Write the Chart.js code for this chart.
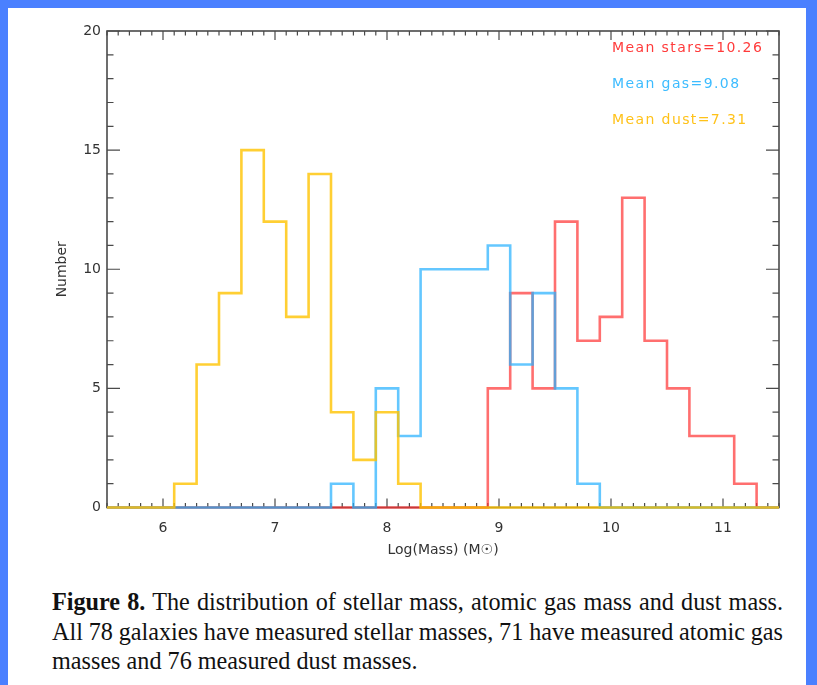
<!DOCTYPE html>
<html>
<head>
<meta charset="utf-8">
<title>Mass distributions</title>
<script src="https://cdn.jsdelivr.net/npm/chart.js@4.4.1/dist/chart.umd.min.js"></script>
<style>
  html, body { margin: 0; padding: 0; }
  body { width: 817px; height: 685px; background: #4a80ff; position: relative; overflow: hidden; }
  #panel { position: absolute; left: 8px; top: 8px; width: 798px; height: 677px; background: #fff; }
  #plot { position: absolute; left: 0; top: 0; }
  #caption {
    position: absolute; left: 52px; top: 587px; width: 731px;
    font-family: "Liberation Serif", "Times New Roman", serif;
    font-size: 24.2px; line-height: 29.5px; color: #111;
  }
  #caption div { white-space: nowrap; }
  #caption .full { text-align: justify; text-align-last: justify; }
  #caption .tight { word-spacing: -0.4px; }
</style>
</head>
<body>
<div id="panel"></div>
<canvas id="plot" width="817" height="570"></canvas>
<div id="caption">
  <div class="full"><b>Figure 8.</b> The distribution of stellar mass, atomic gas mass and dust mass.</div>
  <div class="full tight">All 78 galaxies have measured stellar masses, 71 have measured atomic gas</div>
  <div>masses and 76 measured dust masses.</div>
</div>
<script>
// histogram bins (log mass), width 0.2
const binEdges = [5.5, 5.7, 5.9, 6.1, 6.3, 6.5, 6.7, 6.9, 7.1, 7.3, 7.5, 7.7, 7.9, 8.1, 8.3, 8.5,
                  8.7, 8.9, 9.1, 9.3, 9.5, 9.7, 9.9, 10.1, 10.3, 10.5, 10.7, 10.9, 11.1, 11.3, 11.5];
const starsCounts = [0, 0, 0, 0, 0, 0, 0, 0, 0, 0, 0, 0, 0, 0, 0, 0, 0,
                     5, 9, 5, 12, 7, 8, 13, 7, 5, 3, 3, 1, 0];
const gasCounts   = [0, 0, 0, 0, 0, 0, 0, 0, 0, 0, 1, 0, 5, 3, 10, 10, 10,
                     11, 6, 9, 5, 1, 0, 0, 0, 0, 0, 0, 0, 0];
const dustCounts  = [0, 0, 0, 1, 6, 9, 15, 12, 8, 14, 4, 2, 4, 1, 0, 0, 0,
                     0, 0, 0, 0, 0, 0, 0, 0, 0, 0, 0, 0, 0];

const xTicks = [6, 7, 8, 9, 10, 11];
const yTicks = [0, 5, 10, 15, 20];
const meanLabels = ['Mean stars=10.26', 'Mean gas=9.08', 'Mean dust=7.31'];
const meanColors = ['#ff3b3b', '#3dbcff', '#ffc21a'];

// step outline: each edge carries the count of the bin that starts there
function steps(counts) {
  return binEdges.map((x, i) => ({ x: x, y: counts[Math.min(i, counts.length - 1)] }));
}

const frame = {
  id: 'frame',
  beforeDatasetsDraw(chart) {
    const { ctx, chartArea: a, scales: { x, y } } = chart;
    ctx.save();
    ctx.strokeStyle = '#4a4a4a';
    ctx.lineWidth = 1.6;
    ctx.strokeRect(a.left, a.top, a.right - a.left, a.bottom - a.top);
    ctx.lineWidth = 1.2;
    ctx.beginPath();
    // minor ticks every 0.1 on x, every 1 on y, all pointing inward
    for (let k = 0; k <= 60; k++) {
      const v = x.min + k * 0.1;
      const px = x.getPixelForValue(v);
      const len = Math.abs(v - Math.round(v)) < 1e-6 ? 9 : 4.5;
      ctx.moveTo(px, a.bottom); ctx.lineTo(px, a.bottom - len);
      ctx.moveTo(px, a.top); ctx.lineTo(px, a.top + len);
    }
    for (let v = y.min; v <= y.max; v++) {
      const py = y.getPixelForValue(v);
      const len = v % 5 === 0 ? 13 : 6.5;
      ctx.moveTo(a.left, py); ctx.lineTo(a.left + len, py);
      ctx.moveTo(a.right, py); ctx.lineTo(a.right - len, py);
    }
    ctx.stroke();
    ctx.restore();
  },
  afterDraw(chart) {
    const { ctx, chartArea: a } = chart;
    ctx.save();
    ctx.font = '14px "DejaVu Sans"';
    ctx.letterSpacing = '1.4px';
    ctx.textBaseline = 'middle';
    meanLabels.forEach((t, i) => {
      ctx.fillStyle = meanColors[i];
      ctx.fillText(t, a.left + 505, a.top + 17 + i * 36);
    });
    ctx.restore();
  }
};

const tickFont = { family: 'DejaVu Sans', size: 14 };

new Chart(document.getElementById('plot'), {
  type: 'line',
  data: {
    datasets: [
      { label: 'dust', data: steps(dustCounts), borderColor: 'rgba(255,195,0,0.8)', order: 1 },
      { label: 'gas', data: steps(gasCounts), borderColor: 'rgba(40,178,255,0.72)', order: 2 },
      { label: 'stars', data: steps(starsCounts), borderColor: 'rgba(255,50,50,0.7)', order: 3 }
    ]
  },
  options: {
    responsive: false,
    animation: false,
    parsing: false,
    layout: { padding: { top: 31, right: 38, left: 0, bottom: 0 } },
    datasets: {
      line: { stepped: 'before', borderWidth: 2.6, pointRadius: 0, fill: false, clip: 6, tension: 0 }
    },
    plugins: { legend: { display: false }, tooltip: { enabled: false } },
    scales: {
      x: {
        type: 'linear', min: 5.5, max: 11.5,
        afterBuildTicks: s => { s.ticks = xTicks.map(v => ({ value: v })); },
        afterFit: s => { s.height = 62.5; },
        grid: { display: false, drawTicks: false },
        border: { display: false },
        ticks: { font: tickFont, color: '#333', padding: 12, maxRotation: 0 },
        title: { display: true, text: 'Log(Mass) (M☉)', font: tickFont, color: '#333',
                 padding: { top: 0, bottom: 11.6 } }
      },
      y: {
        min: 0, max: 20,
        afterBuildTicks: s => { s.ticks = yTicks.map(v => ({ value: v })); },
        afterFit: s => { s.width = 107; },
        grid: { display: false, drawTicks: false },
        border: { display: false },
        ticks: { font: tickFont, color: '#333', padding: 6 },
        title: { display: true, text: 'Number', font: tickFont, color: '#333',
                 padding: { top: 53.6, bottom: 0 } }
      }
    }
  },
  plugins: [frame]
});
</script>
</body>
</html>
